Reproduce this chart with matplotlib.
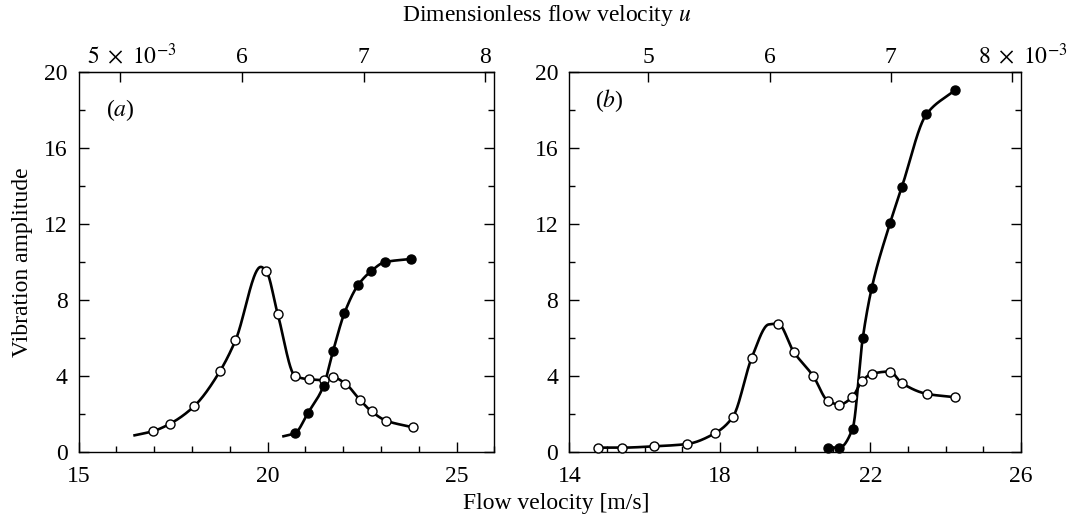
import numpy as np
import matplotlib
matplotlib.use("Agg")
import matplotlib.pyplot as plt
from matplotlib.ticker import MultipleLocator, FixedLocator
from matplotlib.transforms import ScaledTranslation

plt.rcParams['font.family'] = ['Liberation Serif', 'DejaVu Serif']
plt.rcParams['mathtext.fontset'] = 'stix'

# (a) measured points
v_a_open = [16.97, 17.41, 18.06, 18.74, 19.15, 19.96, 20.27, 20.73, 21.10,
            21.48, 21.73, 22.06, 22.45, 22.75, 23.14, 23.85]
amp_a_open = [1.10, 1.48, 2.42, 4.26, 5.88, 9.55, 7.25, 4.00, 3.83,
              3.79, 3.93, 3.60, 2.73, 2.14, 1.65, 1.30]
v_a_filled = [20.73, 21.06, 21.48, 21.73, 22.03, 22.39, 22.73, 23.10, 23.80]
amp_a_filled = [1.00, 2.03, 3.48, 5.30, 7.30, 8.78, 9.51, 10.00, 10.17]

# (b) measured points
v_b_open = [14.75, 15.39, 16.24, 17.12, 17.88, 18.35, 18.85, 19.55, 19.96,
            20.49, 20.87, 21.18, 21.52, 21.78, 22.04, 22.52, 22.84, 23.51, 24.24]
amp_b_open = [0.23, 0.23, 0.30, 0.42, 1.00, 1.86, 4.97, 6.76, 5.29,
              3.98, 2.70, 2.50, 2.89, 3.73, 4.12, 4.24, 3.63, 3.06, 2.89]
v_b_filled = [20.87, 21.18, 21.53, 21.80, 22.04, 22.53, 22.84, 23.49, 24.24]
amp_b_filled = [0.23, 0.23, 1.23, 6.00, 8.65, 12.08, 13.96, 17.78, 19.05]

# extra knots of the hand-drawn curves (line start, peaks)
knots_a_open_v, knots_a_open_amp = [16.48, 19.82], [0.88, 9.75]
knots_a_filled_v, knots_a_filled_amp = [20.42], [0.83]
knots_b_open_v, knots_b_open_amp = [19.30], [6.72]

# axis ticks
v_ticks_a = [15, 20, 25]
v_ticks_b = [14, 18, 22, 26]

# dimensionless velocity u = k * V
u_per_v = 3.105e-4
u_ticks = [5e-3, 6e-3, 7e-3, 8e-3]
u_labels_a = [r'$5\ \times\ 10^{-3}$', '6', '7', '8']
u_labels_b = ['5', '6', '7', r'$8\ \times\ 10^{-3}$']

FS = 17


def pchip(x, y, xs):
    x = np.asarray(x, float)
    y = np.asarray(y, float)
    h = np.diff(x)
    d = np.diff(y) / h
    m = np.zeros_like(y)
    for k in range(1, len(x) - 1):
        if d[k - 1] * d[k] > 0:
            w1 = 2 * h[k] + h[k - 1]
            w2 = h[k] + 2 * h[k - 1]
            m[k] = (w1 + w2) / (w1 / d[k - 1] + w2 / d[k])
    m[0] = d[0]
    m[-1] = d[-1]
    idx = np.clip(np.searchsorted(x, xs) - 1, 0, len(x) - 2)
    t = (xs - x[idx]) / h[idx]
    h00 = 2 * t**3 - 3 * t**2 + 1
    h10 = t**3 - 2 * t**2 + t
    h01 = -2 * t**3 + 3 * t**2
    h11 = t**3 - t**2
    return (h00 * y[idx] + h10 * h[idx] * m[idx] + h01 * y[idx + 1]
            + h11 * h[idx] * m[idx + 1])


def draw_series(ax, v, amp, kv, kamp, filled):
    cv = np.concatenate([v, kv])
    ca = np.concatenate([amp, kamp])
    order = np.argsort(cv)
    cv, ca = cv[order], ca[order]
    xs = np.linspace(cv[0], cv[-1], 400)
    ax.plot(xs, pchip(cv, ca, xs), color='black', lw=1.9, zorder=2)
    face = 'black' if filled else 'white'
    ax.plot(v, amp, 'o', ms=6.5, mfc=face, mec='black', mew=1.0,
            zorder=3, clip_on=False)


def style_axes(ax, xlim, xticks, u_labels):
    ax.set_xlim(*xlim)
    ax.set_ylim(0, 20)
    ax.xaxis.set_major_locator(FixedLocator(xticks))
    ax.xaxis.set_minor_locator(MultipleLocator(1))
    ax.yaxis.set_major_locator(MultipleLocator(4))
    ax.yaxis.set_minor_locator(MultipleLocator(2))
    ax.tick_params(which='both', direction='in', top=False, right=True,
                   labelsize=FS, width=1.0)
    ax.tick_params(axis='x', which='major', length=7, pad=10)
    ax.tick_params(axis='x', which='minor', length=4)
    ax.tick_params(axis='y', which='major', length=7, pad=8)
    ax.tick_params(axis='y', which='minor', length=4)
    for s in ax.spines.values():
        s.set_linewidth(1.0)
    sec = ax.secondary_xaxis('top', functions=(lambda v: v * u_per_v,
                                               lambda u: u / u_per_v))
    sec.set_xticks(u_ticks, labels=u_labels)
    sec.tick_params(direction='in', length=7, width=1.0, labelsize=FS, pad=3)
    sec.xaxis.set_minor_locator(plt.NullLocator())
    # long labels sit a little right of their tick
    shift = ScaledTranslation(11 / 100, 0, fig.dpi_scale_trans)
    for lab in sec.get_xticklabels():
        if 'times' in lab.get_text():
            lab.set_transform(lab.get_transform() + shift)


fig = plt.figure(figsize=(10.73, 5.21), dpi=100)
ax_a = fig.add_axes([0.0733, 0.1324, 0.3874, 0.7288])
ax_b = fig.add_axes([0.5306, 0.1324, 0.4207, 0.7288])

draw_series(ax_a, v_a_open, amp_a_open, knots_a_open_v, knots_a_open_amp, False)
draw_series(ax_a, v_a_filled, amp_a_filled, knots_a_filled_v, knots_a_filled_amp, True)
draw_series(ax_b, v_b_open, amp_b_open, knots_b_open_v, knots_b_open_amp, False)
draw_series(ax_b, v_b_filled, amp_b_filled, [], [], True)

style_axes(ax_a, (15, 26), v_ticks_a, u_labels_a)
style_axes(ax_b, (14, 26), v_ticks_b, u_labels_b)

ax_a.text(0.066, 0.90, r'($\mathit{a}$)', transform=ax_a.transAxes,
          fontsize=FS, va='center')
ax_b.text(0.057, 0.925, r'($\mathit{b}$)', transform=ax_b.transAxes,
          fontsize=FS, va='center')

ax_a.set_ylabel('Vibration amplitude', fontsize=FS, labelpad=8)
fig.text(556 / 1073, 1 - 504 / 521, 'Flow velocity [m/s]', ha='center',
         va='center', fontsize=FS)
fig.text(547 / 1073, 1 - 15 / 521, r'Dimensionless flow velocity $\mathit{u}$',
         ha='center', va='center', fontsize=FS)

fig.savefig('out.png', dpi=100)
